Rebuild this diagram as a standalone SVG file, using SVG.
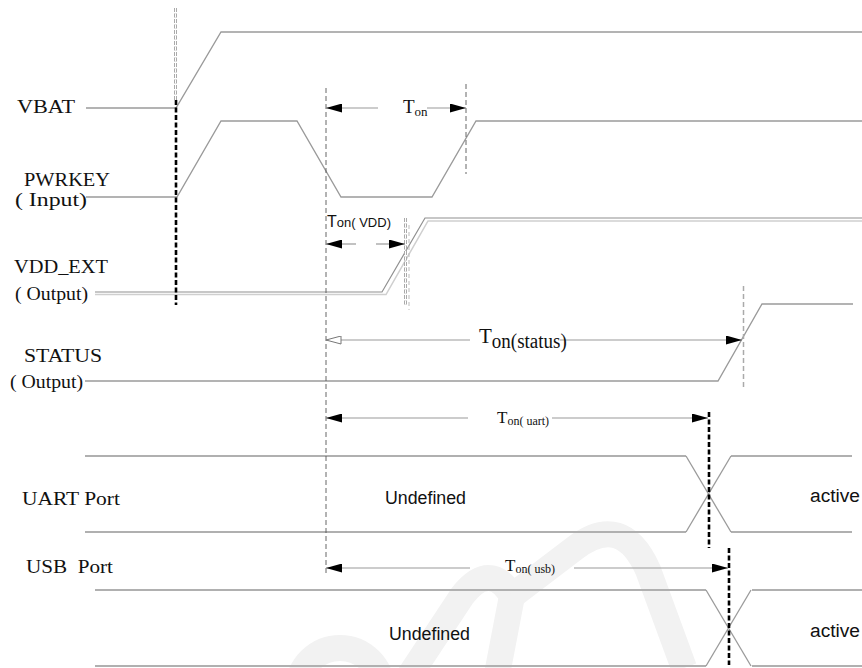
<svg xmlns="http://www.w3.org/2000/svg" width="862" height="668" viewBox="0 0 862 668">
<style>
.sig{fill:none;stroke:#9a9a9a;stroke-width:1.3}
.hl{fill:none;stroke:#b0b0b0;stroke-width:1.8}
.arr{fill:none;stroke:#999;stroke-width:1.2}
.lbl{font-family:"Liberation Serif",serif;font-size:19px;fill:#111}
.tt{font-family:"Liberation Serif",serif;fill:#111}
.sans{font-family:"Liberation Sans","Open Sans",sans-serif;fill:#111}
.vd{stroke:#555;stroke-width:0.9;stroke-dasharray:5,3;fill:none}
.bd{stroke:#000;stroke-width:2.6;stroke-dasharray:5,2.5;fill:none}
</style>
<defs>
<marker id="ah" viewBox="0 0 16 9" refX="16" refY="4.5" markerWidth="16" markerHeight="9" markerUnits="userSpaceOnUse" orient="auto-start-reverse"><path d="M0,0 L16,4.5 L0,9 z" fill="#000"/></marker>
<marker id="aho" viewBox="0 0 16 9" refX="15.5" refY="4.5" markerWidth="16" markerHeight="9" markerUnits="userSpaceOnUse" orient="auto-start-reverse"><path d="M0.5,0.5 L15.5,4.5 L0.5,8.5 z" fill="#fff" stroke="#777" stroke-width="1"/></marker>
</defs>
<rect width="862" height="668" fill="#fff"/>
<g id="watermark" fill="none" stroke="#f2f2f2" stroke-width="26">
<circle cx="340" cy="690" r="42"/>
<path d="M400 690 L462 596 Q 490 560 512 596 L 494 690"/>
<path d="M512 596 L575 548 Q 622 512 648 570 L 684 668"/>
</g>
<g id="labels">
<text class="lbl" x="17" y="113" textLength="58" lengthAdjust="spacingAndGlyphs">VBAT</text>
<text class="lbl" x="24" y="186" textLength="86" lengthAdjust="spacingAndGlyphs">PWRKEY</text>
<text class="lbl" x="15" y="206" textLength="72" lengthAdjust="spacingAndGlyphs">( Input)</text>
<text class="lbl" x="14" y="273" textLength="94" lengthAdjust="spacingAndGlyphs">VDD_EXT</text>
<text class="lbl" x="15" y="300" textLength="73" lengthAdjust="spacingAndGlyphs">( Output)</text>
<text class="lbl" x="24" y="362" textLength="78" lengthAdjust="spacingAndGlyphs">STATUS</text>
<text class="lbl" x="10" y="388" textLength="73" lengthAdjust="spacingAndGlyphs">( Output)</text>
<text class="lbl" x="22" y="505" textLength="98" lengthAdjust="spacingAndGlyphs">UART Port</text>
<text class="lbl" x="26" y="573" textLength="87" lengthAdjust="spacingAndGlyphs" xml:space="preserve">USB  Port</text>
</g>
<g id="VBAT">
<polyline class="sig" points="86,108 176,108 221,32 862,32"/>
</g>
<g id="PWRKEY">
<polyline class="sig" points="86,197 177,197 221,121 297,121 341,197 432,197 476,121 862,121"/>
</g>
<g id="VDD_EXT">
<polyline fill="none" stroke="#909090" stroke-width="1.2" points="95,292 382,292 425,218 862,218"/>
<polyline fill="none" stroke="#cfcfcf" stroke-width="1.5" points="95,294.5 386,294.5 428,221 862,221"/>
</g>
<g id="STATUS">
<polyline class="sig" points="85,381 718,381 762,304 853,304"/>
</g>
<g id="UART">
<line class="hl" x1="85" y1="456" x2="686" y2="456"/>
<line class="hl" x1="85" y1="532" x2="686" y2="532"/>
<line class="hl" x1="731" y1="456" x2="852" y2="456"/>
<line class="hl" x1="731" y1="532" x2="852" y2="532"/>
<line class="sig" x1="686" y1="456" x2="731" y2="532"/>
<line class="sig" x1="686" y1="532" x2="731" y2="456"/>
<text class="sans" x="385" y="504" font-size="18" textLength="81" lengthAdjust="spacingAndGlyphs">Undefined</text>
<text class="sans" x="810" y="502" font-size="18" textLength="50" lengthAdjust="spacingAndGlyphs">active</text>
</g>
<g id="USB">
<line class="hl" x1="95" y1="590" x2="706" y2="590"/>
<line class="hl" x1="95" y1="666" x2="706" y2="666"/>
<line class="hl" x1="752" y1="590" x2="862" y2="590"/>
<line class="hl" x1="752" y1="666" x2="862" y2="666"/>
<line class="sig" x1="706" y1="590" x2="751" y2="666"/>
<line class="sig" x1="706" y1="666" x2="751" y2="590"/>
<text class="sans" x="389" y="640" font-size="18" textLength="81" lengthAdjust="spacingAndGlyphs">Undefined</text>
<text class="sans" x="810" y="637" font-size="18" textLength="50" lengthAdjust="spacingAndGlyphs">active</text>
</g>
<g id="connectors">
<line x1="175.5" y1="8" x2="175.5" y2="100" stroke="#aaa" stroke-width="3" stroke-dasharray="4,1.5"/>
<line x1="175.5" y1="8" x2="175.5" y2="100" stroke="#fff" stroke-width="1" stroke-dasharray="4,1.5"/>
<line class="bd" x1="176" y1="100" x2="176" y2="305"/>
<line class="vd" x1="326" y1="88" x2="326" y2="575"/>
<line class="vd" x1="466" y1="84" x2="466" y2="174"/>
<line x1="405.5" y1="218" x2="405.5" y2="305" stroke="#aaa" stroke-width="3" stroke-dasharray="4,1.5"/>
<line x1="405.5" y1="218" x2="405.5" y2="305" stroke="#fff" stroke-width="1" stroke-dasharray="4,1.5"/>
<line x1="409" y1="225" x2="409" y2="310" stroke="#bbb" stroke-width="1" stroke-dasharray="4,3"/>
<line x1="743.5" y1="286" x2="743.5" y2="389" stroke="#aaa" stroke-width="1.5" stroke-dasharray="5,3"/>
<line class="bd" x1="709" y1="412" x2="709" y2="548"/>
<line class="bd" x1="729" y1="548" x2="729" y2="665"/>
<line class="arr" x1="378" y1="108" x2="326" y2="108" marker-end="url(#ah)"/>
<line class="arr" x1="427" y1="108" x2="466" y2="108" marker-end="url(#ah)"/>
<line class="arr" x1="356" y1="244" x2="326" y2="244" marker-end="url(#ah)"/>
<line class="arr" x1="376" y1="244" x2="405" y2="244" marker-end="url(#ah)"/>
<line class="arr" x1="470" y1="340" x2="326" y2="340" marker-end="url(#aho)"/>
<line class="arr" x1="560" y1="340" x2="742" y2="340" marker-end="url(#ah)"/>
<line class="arr" x1="468" y1="418" x2="326" y2="418" marker-end="url(#ah)"/>
<line class="arr" x1="552" y1="418" x2="708" y2="418" marker-end="url(#ah)"/>
<line class="arr" x1="470" y1="568" x2="326" y2="568" marker-end="url(#ah)"/>
<line class="arr" x1="574" y1="568" x2="728" y2="568" marker-end="url(#ah)"/>
</g>
<g id="timing-labels">
<text class="tt" x="403" y="113" font-size="19">T<tspan font-size="13" dy="3">on</tspan></text>
<text class="sans" x="327" y="227" font-size="16">T<tspan font-size="13">on( VDD)</tspan></text>
<text class="tt" x="479" y="343" font-size="21">T<tspan font-size="20" dy="5" textLength="75" lengthAdjust="spacingAndGlyphs">on(status)</tspan></text>
<text class="tt" x="497" y="423" font-size="17">T<tspan font-size="12" dy="2">on( uart)</tspan></text>
<text class="tt" x="505" y="571" font-size="17">T<tspan font-size="12" dy="2">on( usb)</tspan></text>
</g>
</svg>
